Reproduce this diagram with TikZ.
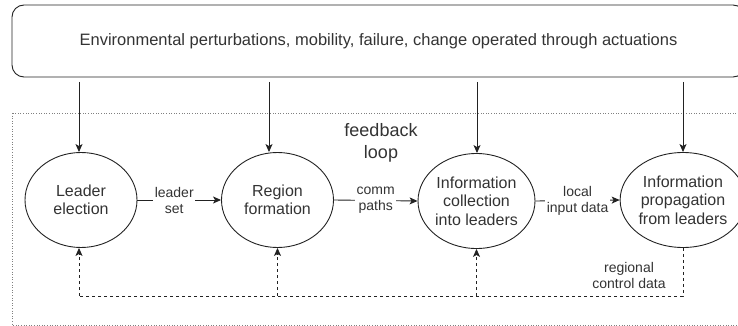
\documentclass[tikz,border=0pt]{standalone}
\usepackage{fontspec}
\setmainfont{Liberation Sans}
\usetikzlibrary{shapes.geometric,arrows.meta}
\definecolor{txt}{HTML}{333333}
\definecolor{ln}{HTML}{222222}
\begin{document}
\begin{tikzpicture}[x=1pt,y=-1pt,
  every node/.style={text=txt},
  proc/.style={ellipse, draw=ln, line width=0.9pt, minimum width=112pt, minimum height=95pt, align=center, inner sep=0pt, font=\fontsize{16}{18.4}\selectfont},
  lbl/.style={fill=white, align=center, inner sep=1.5pt, font=\fontsize{14}{16}\selectfont},
  arr/.style={-{Stealth[length=8pt,width=7pt,inset=2pt]}, line width=0.9pt, draw=ln},
  fbline/.style={line width=0.8pt, draw=ln, dash pattern=on 3pt off 3pt},
  fb/.style={arr, line width=0.8pt, dash pattern=on 3pt off 3pt}]
\useasboundingbox (0,0) rectangle (738,326);
\node[draw=ln, line width=0.9pt, rounded corners=12pt, minimum width=733pt, minimum height=72pt, font=\fontsize{16.5}{19}\selectfont] (env) at (378.5,41) {Environmental perturbations, mobility, failure, change operated through actuations};
\draw[gray, dotted, line width=0.6pt] (12,113) rectangle (760,325);
\node[proc] (le) at (81,200) {Leader\\election};
\node[proc] (rf) at (277.5,200) {Region\\formation};
\node[proc] (ic) at (476.5,201) {Information\\collection\\into leaders};
\node[proc, minimum width=110pt] (ip) at (683,200) {Information\\propagation\\from leaders};
\node[font=\fontsize{18}{22}\selectfont, align=center] (fl) at (381,143) {feedback\\loop};
\coordinate (e1) at (79,82);
\coordinate (e2) at (269,82);
\coordinate (e3) at (477,82);
\coordinate (e4) at (683,82);
\draw[arr] (e1) -- (e1 |- le.north);
\draw[arr] (e2) -- ([xshift=-8.5pt]rf.north);
\draw[arr] (e3) -- (e3 |- ic.north);
\draw[arr] (e4) -- (e4 |- ip.north);
\draw[arr] (le.east) -- node[lbl, pos=0.44]{leader\\set} (rf.west);
\draw[arr] (rf.east) -- node[lbl]{comm\\paths} (ic.west);
\draw[arr] (ic.east) -- node[lbl]{local\\input data} (ip.west);
\coordinate (fbR) at (683,296);
\coordinate (fbL) at (79,296);
\draw[fbline] (ip.south) -- (fbR) -- (fbL);
\draw[fb] (fbL) -- (fbL |- le.south);
\draw[fb] (rf.south |- fbR) -- (rf.south);
\draw[fb] (ic.south |- fbR) -- (ic.south);
\node[lbl, fill=none] (rc) at (629,275) {regional\\control data};
\end{tikzpicture}
\end{document}
